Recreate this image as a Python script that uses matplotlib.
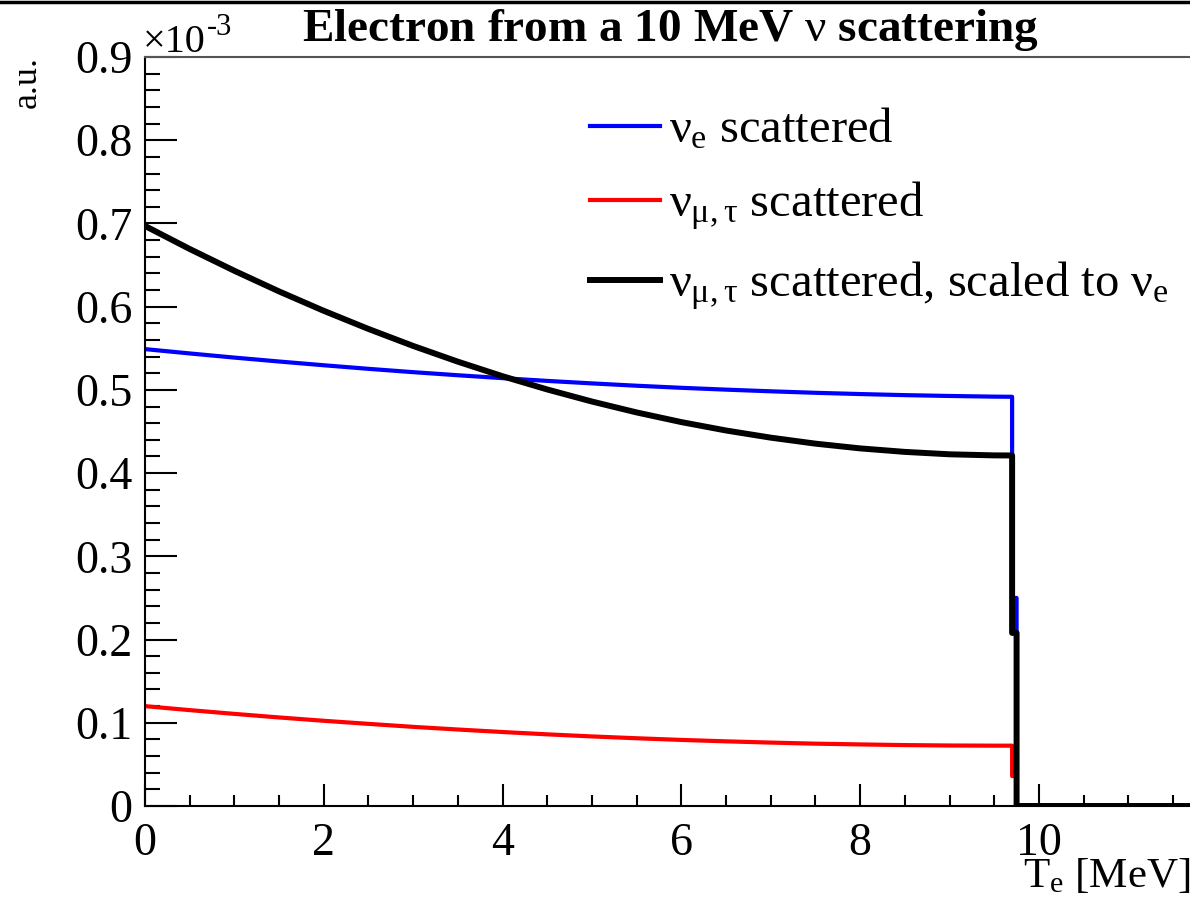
import numpy as np
import matplotlib
matplotlib.use("Agg")
import matplotlib.pyplot as plt
from matplotlib.lines import Line2D
from matplotlib.ticker import MultipleLocator, FuncFormatter

# %% Data (values in units of 1e-3)

t_pts = [0.0, 0.5, 1.0, 1.5, 2.0, 2.5, 3.0, 3.5, 4.0, 4.5, 5.0,
         5.5, 6.0, 6.5, 7.0, 7.5, 8.0, 8.5, 9.0, 9.5, 9.7]
nue = [0.5490, 0.5438, 0.5388, 0.5341, 0.5296, 0.5253, 0.5213, 0.5176, 0.5141, 0.5108, 0.5078,
       0.5050, 0.5025, 0.5003, 0.4983, 0.4965, 0.4950, 0.4937, 0.4927, 0.4919, 0.4917]
numu = [0.1200, 0.1152, 0.1107, 0.1064, 0.1024, 0.0987, 0.0951, 0.0919, 0.0889, 0.0861, 0.0836,
        0.0814, 0.0794, 0.0777, 0.0762, 0.0749, 0.0740, 0.0732, 0.0727, 0.0725, 0.0725]
numu_scaled = [0.6970, 0.6693, 0.6431, 0.6183, 0.5950, 0.5732, 0.5528, 0.5339, 0.5164, 0.5005, 0.4860,
               0.4729, 0.4613, 0.4512, 0.4426, 0.4354, 0.4297, 0.4255, 0.4226, 0.4213, 0.4212]

# last (partially filled) bin and the empty range after the endpoint
last_bin = [9.70, 9.75]
x_end = 11.69
nue_last = 0.25
numu_last = 0.036
numu_scaled_last = 0.208

labels = [r'$\nu_{e}$ scattered',
          r'$\nu_{\mu,\tau}$ scattered',
          r'$\nu_{\mu,\tau}$ scattered, scaled to $\nu_{e}$']

# %% Style

plt.rcParams['font.family'] = ['Liberation Serif', 'DejaVu Serif']
plt.rcParams['mathtext.fontset'] = 'custom'
plt.rcParams['mathtext.rm'] = 'Liberation Serif'
plt.rcParams['mathtext.it'] = 'Liberation Serif'
plt.rcParams['mathtext.bf'] = 'Liberation Serif:bold'


def hist_path(y, y_last):
    xs = list(t_pts) + [last_bin[0], last_bin[1], last_bin[1], x_end]
    ys = list(y) + [y_last, y_last, 0.0, 0.0]
    return xs, ys


W, H = 1190, 898
fig = plt.figure(figsize=(W/100, H/100), dpi=100)
ax = fig.add_axes([145/W, 92/H, 1 - 145/W, (806 - 57)/H])

for y, yl, c, lw in [(nue, nue_last, 'blue', 3.0),
                     (numu, numu_last, 'red', 3.0),
                     (numu_scaled, numu_scaled_last, 'black', 4.3)]:
    xs, ys = hist_path(y, yl)
    ax.plot(xs, ys, color=c, lw=lw, solid_joinstyle='round')

ax.set_xlim(0, x_end)
ax.set_ylim(0, 0.9)

ax.xaxis.set_major_locator(MultipleLocator(2))
ax.xaxis.set_minor_locator(MultipleLocator(0.5))
ax.yaxis.set_major_locator(MultipleLocator(0.1))
ax.yaxis.set_minor_locator(MultipleLocator(0.02))
ax.yaxis.set_major_formatter(FuncFormatter(lambda v, p: f"{v:.1f}" if v > 1e-9 else "0"))
ax.xaxis.set_major_formatter(FuncFormatter(lambda v, p: f"{v:g}"))

ax.tick_params(axis='both', which='both', direction='in', width=1.5, labelsize=33)
ax.tick_params(axis='x', which='major', length=16, pad=12)
ax.tick_params(axis='x', which='minor', length=8)
ax.tick_params(axis='y', which='major', length=23, pad=9)
ax.tick_params(axis='y', which='minor', length=11)

ax.spines['right'].set_visible(False)
ax.spines['top'].set_color('#555555')
ax.spines['top'].set_linewidth(1.5)
ax.spines['left'].set_linewidth(1.5)
ax.spines['bottom'].set_linewidth(1.5)

# exponent of the y axis
fig.text(143/W, 1 - 52/H, '×10', fontsize=29, ha='left', va='baseline')
fig.text(207/W, 1 - 35/H, '-3', fontsize=22, ha='left', va='baseline')

# axis titles
fig.text(27/W, 1 - 56/H, 'a.u.', fontsize=26, rotation=90, ha='center', va='top')
fig.text(1, 1 - 887/H, r'T$_{e}$ [MeV]', fontsize=31, ha='right', va='baseline')

fig.text(670/W, 1 - 30/H, r'Electron from a 10 MeV $\nu$ scattering',
         fontsize=34, fontweight='bold', ha='center', va='center')

# black bar at top of the canvas
fig.add_artist(Line2D([0, 1], [1 - 1.5/H, 1 - 1.5/H], transform=fig.transFigure,
                      color='black', lw=2.5))

handles = [Line2D([], [], color='blue', lw=3.0),
           Line2D([], [], color='red', lw=3.0),
           Line2D([], [], color='black', lw=4.3)]
fig.legend(handles, labels, loc='upper left', bbox_to_anchor=(590/W, 1 - 107/H),
           frameon=False, fontsize=35, handlelength=1.45, handletextpad=0.17,
           labelspacing=0.56, borderpad=0, borderaxespad=0)

fig.savefig('out.png', dpi=100)
